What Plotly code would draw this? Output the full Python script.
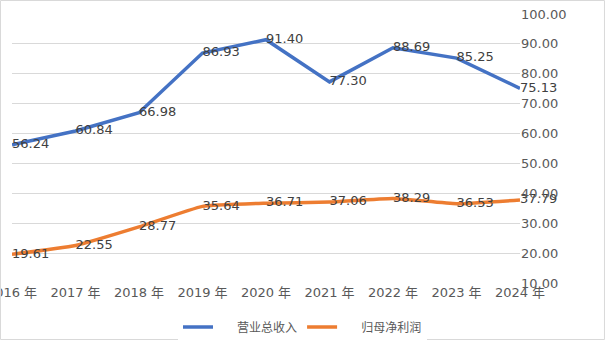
import plotly.graph_objects as go

years = ["2016 年", "2017 年", "2018 年", "2019 年", "2020 年", "2021 年", "2022 年", "2023 年", "2024 年"]
revenue = [56.24, 60.84, 66.98, 86.93, 91.40, 77.30, 88.69, 85.25, 75.13]
net_profit = [19.61, 22.55, 28.77, 35.64, 36.71, 37.06, 38.29, 36.53, 37.79]
y_ticks = [10, 20, 30, 40, 50, 60, 70, 80, 90, 100]

font_family = "DejaVu Sans, Noto Sans CJK SC"
x_idx = list(range(len(years)))
pad = "\u00a0" * 5  # gap between legend swatch and its text

fig = go.Figure()
fig.add_trace(go.Scatter(
    x=x_idx, y=revenue, name=pad + "营业总收入", mode="lines+text",
    line=dict(color="#4472C4", width=3.5),
    text=[f"{v:.2f}" for v in revenue], textposition="middle right",
    textfont=dict(size=13, color="#404040", family=font_family),
    cliponaxis=False,
))
fig.add_trace(go.Scatter(
    x=x_idx, y=net_profit, name=pad + "归母净利润", mode="lines+text",
    line=dict(color="#ED7D31", width=3.5, shape="spline", smoothing=0.4),
    text=[f"{v:.2f}" for v in net_profit], textposition="middle right",
    textfont=dict(size=13, color="#404040", family=font_family),
    cliponaxis=False,
))

fig.update_layout(
    width=605, height=340,
    margin=dict(l=12, r=85, t=14, b=57, autoexpand=False),
    paper_bgcolor="white", plot_bgcolor="white",
    font=dict(family=font_family, size=13, color="#595959"),
    showlegend=True,
    legend=dict(orientation="h", xref="container", x=0.5, xanchor="center",
                yref="container", y=0.038, yanchor="middle",
                font=dict(size=12, color="#595959"), itemwidth=30),
    xaxis=dict(
        tickmode="array", tickvals=x_idx, ticktext=years,
        range=[0, 8], showgrid=False, zeroline=False, showline=False,
        tickfont=dict(size=13, color="#595959"), ticks="", automargin=False,
        ticklabeloverflow="allow",
    ),
    yaxis=dict(
        side="right", range=[10, 100], tickvals=y_ticks,
        ticktext=[f"{v:.2f}" for v in y_ticks],
        showgrid=True, gridcolor="#d9d9d9", gridwidth=1,
        zeroline=False, showline=False, ticks="", automargin=False,
        tickfont=dict(size=13, color="#595959"),
    ),
    shapes=[dict(type="rect", xref="paper", yref="paper", x0=-0.0226, x1=1.1663,
                 y0=-0.21, y1=1.0502, line=dict(color="#d9d9d9", width=1))],
)

fig.write_html("out.html")
